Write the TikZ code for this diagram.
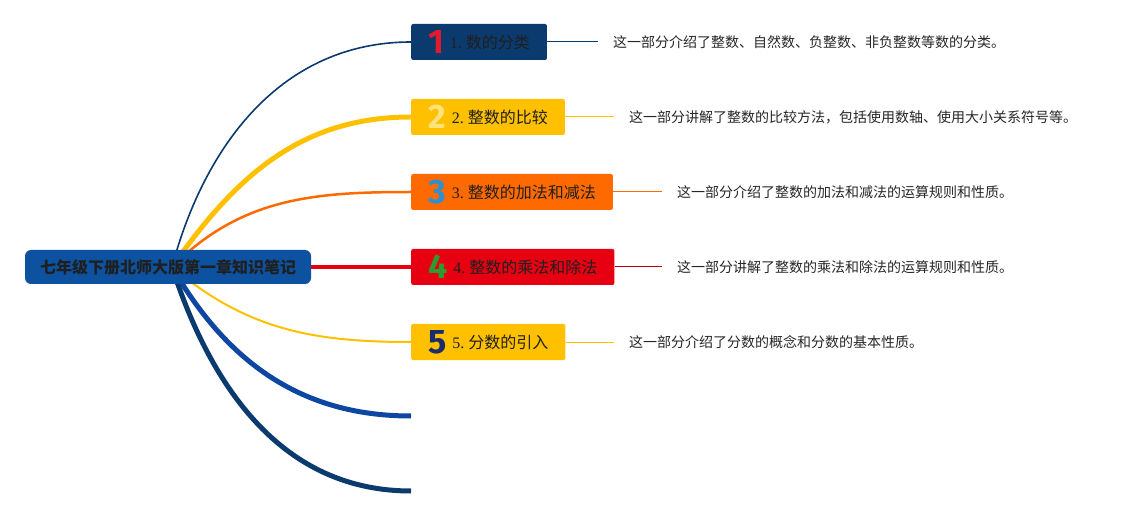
\documentclass[tikz,border=0pt]{standalone}
\usepackage{fontspec}
\setmainfont{Liberation Serif}
\newfontfamily\cjk{Noto Sans CJK SC}
\newfontfamily\numfont{Fira Sans}
\usetikzlibrary{backgrounds}
\definecolor{rootblue}{HTML}{0D52A0}
\definecolor{navy}{HTML}{0B3A6F}
\definecolor{gold}{HTML}{FFC000}
\definecolor{tangerine}{HTML}{FF6A00}
\definecolor{scarlet}{HTML}{E60012}
\definecolor{royal}{HTML}{0D47A1}
\definecolor{numred}{HTML}{E11B2E}
\definecolor{numyellow}{HTML}{FFE27A}
\definecolor{numblue}{HTML}{2F8FD0}
\definecolor{numgreen}{HTML}{2E9B2E}
\definecolor{numnavy}{HTML}{1B2C6B}
\newcommand{\topictext}[3]{\smash{\raisebox{-5pt}{\numfont\bfseries\fontsize{34}{34}\selectfont\color{#1}#2}}\hspace{6pt}#2.~{\cjk #3}}
\begin{document}
\begin{tikzpicture}[x=1pt,y=-1pt,
  topic/.style={rectangle,rounded corners=2pt,minimum height=36pt,inner xsep=17pt,inner ysep=0pt,anchor=west,text=black!88,font=\fontsize{16}{18}\selectfont},
  desc/.style={anchor=west,inner xsep=15pt,text=black!85,font=\cjk\fontsize{14}{16}\selectfont}]
  \useasboundingbox (0,0) rectangle (1137,518);
  \node[fill=rootblue,rounded corners=6pt,minimum width=286pt,minimum height=34pt,text=black!88,font=\cjk\bfseries\fontsize{16}{18}\selectfont] (root) at (168,267) {七年级下册北师大版第一章知识笔记};
  \coordinate (hub) at (172,267);
  \node[topic,fill=navy] (t1) at (411,42) {\topictext{numred}{1}{数的分类}};
  \node[topic,fill=gold] (t2) at (411,117) {\topictext{numyellow}{2}{整数的比较}};
  \node[topic,fill=tangerine] (t3) at (411,192) {\topictext{numblue}{3}{整数的加法和减法}};
  \node[topic,fill=scarlet] (t4) at (411,267) {\topictext{numgreen}{4}{整数的乘法和除法}};
  \node[topic,fill=gold] (t5) at (411,342) {\topictext{numnavy}{5}{分数的引入}};
  \coordinate (e6) at (411,416);
  \coordinate (e7) at (411,491);
  \node[desc] (d1) at (598,42) {这一部分介绍了整数、自然数、负整数、非负整数等数的分类。};
  \node[desc] (d2) at (614,117) {这一部分讲解了整数的比较方法，包括使用数轴、使用大小关系符号等。};
  \node[desc] (d3) at (662,192) {这一部分介绍了整数的加法和减法的运算规则和性质。};
  \node[desc] (d4) at (662,267) {这一部分讲解了整数的乘法和除法的运算规则和性质。};
  \node[desc] (d5) at (614,342) {这一部分介绍了分数的概念和分数的基本性质。};
  \begin{scope}[on background layer]
    \draw[navy,line width=1pt] (t1.east) -- (d1.west);
    \draw[gold,line width=1pt] (t2.east) -- (d2.west);
    \draw[tangerine,line width=1pt] (t3.east) -- (d3.west);
    \draw[scarlet!80!black,line width=1pt] (t4.east) -- (d4.west);
    \draw[gold,line width=1pt] (t5.east) -- (d5.west);
    \draw[navy,line width=1.6pt] (hub) to[out=75,in=180] (t1.west);
    \draw[gold,line width=5pt] (hub) to[out=55,in=180] (t2.west);
    \draw[tangerine,line width=2.5pt] (hub) to[out=45,in=180] (t3.west);
    \draw[scarlet,line width=4pt] (root.east) -- (t4.west);
    \draw[gold,line width=2pt] (hub) to[out=-40,in=180] (t5.west);
    \draw[royal,line width=5pt] (hub) to[out=-60,in=180] (e6);
    \draw[navy,line width=5pt] (hub) to[out=-72,in=180] (e7);
  \end{scope}
\end{tikzpicture}
\end{document}
